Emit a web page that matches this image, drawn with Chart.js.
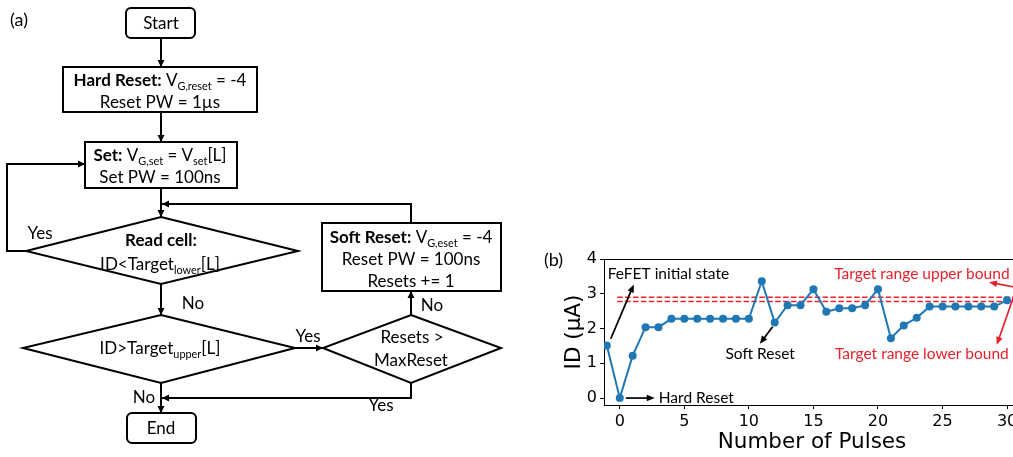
<!DOCTYPE html>
<html>
<head>
<meta charset="utf-8">
<script src="https://cdn.jsdelivr.net/npm/chart.js@4.4.1/dist/chart.umd.min.js"></script>
<style>
  html, body { margin: 0; padding: 0; width: 1013px; height: 457px; overflow: hidden; background: #fff; }
  #flow { position: absolute; left: 0; top: 0; }
  #chart { position: absolute; left: 540px; top: 240px; }
</style>
</head>
<body>
<canvas id="flow" width="1013" height="457"></canvas>
<canvas id="chart" width="540" height="217"></canvas>
<script>
// ---- measured drain current during the program-and-verify sequence ----
const pulses = [-1, 0, 1, 2, 3, 4, 5, 6, 7, 8, 9, 10, 11, 12, 13, 14, 15,
                16, 17, 18, 19, 20, 21, 22, 23, 24, 25, 26, 27, 28, 29, 30];
const currentUA = [1.51, 0.00, 1.22, 2.04, 2.04, 2.28, 2.28, 2.28, 2.28, 2.28, 2.28, 2.28, 3.36, 2.17, 2.67, 2.67, 3.13,
                   2.48, 2.58, 2.58, 2.67, 3.13, 1.72, 2.09, 2.31, 2.63, 2.63, 2.63, 2.63, 2.63, 2.63, 2.81];
const targetUpper = 2.90;
const targetLower = 2.78;
const boundStart = -0.2;
const xTicks = [0, 5, 10, 15, 20, 25, 30];
const yTicks = [0, 1, 2, 3, 4];

const X_MIN = -1.22, X_MAX = 31, Y_MIN = -0.2, Y_MAX = 4;
const SANS = "Lato, 'Open Sans', sans-serif";
const MPL = "'DejaVu Sans', sans-serif";

// ---------- flowchart ----------
const fc = document.getElementById('flow').getContext('2d');

function richWidth(ctx, parts, size) {
  let w = 0;
  for (const p of parts) {
    ctx.font = (p.b ? 'bold ' : '') + (p.sub ? size * 0.64 : size) + 'px ' + SANS;
    w += ctx.measureText(p.t).width;
  }
  return w;
}
function rich(ctx, parts, cx, cy, size, color) {
  const total = richWidth(ctx, parts, size);
  let x = cx - total / 2;
  const base = cy + size * 0.36;
  ctx.fillStyle = color || '#000';
  ctx.textAlign = 'left';
  ctx.textBaseline = 'alphabetic';
  for (const p of parts) {
    const s = p.sub ? size * 0.64 : size;
    ctx.font = (p.b ? 'bold ' : '') + s + 'px ' + SANS;
    ctx.fillText(p.t, x, p.sub ? base + size * 0.22 : base);
    x += ctx.measureText(p.t).width;
  }
}
function arrowHead(ctx, x1, y1, x2, y2, len, half) {
  const a = Math.atan2(y2 - y1, x2 - x1);
  ctx.beginPath();
  ctx.moveTo(x2, y2);
  ctx.lineTo(x2 - len * Math.cos(a) + half * Math.sin(a), y2 - len * Math.sin(a) - half * Math.cos(a));
  ctx.lineTo(x2 - len * Math.cos(a) - half * Math.sin(a), y2 - len * Math.sin(a) + half * Math.cos(a));
  ctx.closePath();
  ctx.fill();
}
function path(ctx, pts, arrow) {
  ctx.beginPath();
  ctx.moveTo(pts[0][0], pts[0][1]);
  for (let i = 1; i < pts.length; i++) ctx.lineTo(pts[i][0], pts[i][1]);
  ctx.stroke();
  if (arrow) {
    const n = pts.length;
    arrowHead(ctx, pts[n - 2][0], pts[n - 2][1], pts[n - 1][0], pts[n - 1][1], 7, 3.5);
  }
}
function box(ctx, x1, y1, x2, y2, r) {
  ctx.beginPath();
  if (r) ctx.roundRect(x1, y1, x2 - x1, y2 - y1, r);
  else ctx.rect(x1, y1, x2 - x1, y2 - y1);
  ctx.fillStyle = '#fff';
  ctx.fill();
  ctx.stroke();
}
function diamond(ctx, cx, top, right, bottom, left, cy) {
  ctx.beginPath();
  ctx.moveTo(cx, top);
  ctx.lineTo(right, cy);
  ctx.lineTo(cx, bottom);
  ctx.lineTo(left, cy);
  ctx.closePath();
  ctx.stroke();
}

fc.strokeStyle = '#000';
fc.fillStyle = '#000';
fc.lineWidth = 2;
fc.lineJoin = 'miter';

// connectors
path(fc, [[161, 38], [161, 67]], true);
path(fc, [[161, 112], [161, 142]], true);
path(fc, [[161, 188], [161, 217]], true);
path(fc, [[411, 223], [411, 204], [162, 204]], true);
path(fc, [[26, 251], [7, 251], [7, 164], [85, 164]], true);
path(fc, [[161, 284], [161, 315]], true);
path(fc, [[295, 348], [323, 348]], true);
path(fc, [[411, 315], [411, 291]], true);
path(fc, [[411, 383], [411, 398], [162, 398]], true);
path(fc, [[161, 383], [161, 413]], true);

// shapes
box(fc, 126, 8, 195, 38, 5);
box(fc, 63, 67, 257, 112);
box(fc, 85, 142, 237, 188);
diamond(fc, 161, 217, 298, 284, 26, 251);
diamond(fc, 161, 315, 295, 383, 23, 348);
diamond(fc, 411, 315, 501, 383, 323, 348);
box(fc, 322, 223, 501, 291);
box(fc, 127, 413, 196, 443, 5);

// texts
const FS = 17;
rich(fc, [{ t: '(a)' }], 19, 20, 18);
rich(fc, [{ t: 'Start' }], 161, 23, FS);
rich(fc, [{ t: 'Hard Reset:', b: true }, { t: ' V' }, { t: 'G,reset', sub: true }, { t: ' = -4' }], 160, 80, FS);
rich(fc, [{ t: 'Reset PW = 1\u00b5s' }], 160, 102, FS);
rich(fc, [{ t: 'Set:', b: true }, { t: ' V' }, { t: 'G,set', sub: true }, { t: ' = V' }, { t: 'set', sub: true }, { t: '[L]' }], 160, 155, FS);
rich(fc, [{ t: 'Set PW = 100ns' }], 160, 177, FS);
rich(fc, [{ t: 'Read cell:', b: true }], 161, 240, FS);
rich(fc, [{ t: 'ID<Target' }, { t: 'lower', sub: true }, { t: '[L]' }], 160, 264, FS);
rich(fc, [{ t: 'ID>Target' }, { t: 'upper', sub: true }, { t: '[L]' }], 160, 348, FS);
rich(fc, [{ t: 'Resets >' }], 412, 337, FS);
rich(fc, [{ t: 'MaxReset' }], 411, 360, FS);
rich(fc, [{ t: 'Soft Reset:', b: true }, { t: ' V' }, { t: 'G,eset', sub: true }, { t: ' = -4' }], 411, 237, FS);
rich(fc, [{ t: 'Reset PW = 100ns' }], 411, 259, FS);
rich(fc, [{ t: 'Resets += 1' }], 411, 281, FS);
rich(fc, [{ t: 'End' }], 161, 428, FS);
rich(fc, [{ t: 'Yes' }], 40, 233, FS);
rich(fc, [{ t: 'No' }], 193, 303, FS);
rich(fc, [{ t: 'Yes' }], 308, 336, FS);
rich(fc, [{ t: 'No' }], 432, 305, FS);
rich(fc, [{ t: 'Yes' }], 381, 405, FS);
rich(fc, [{ t: 'No' }], 144, 397, FS);

// ---------- line chart ----------
const notes = [
  { text: 'FeFET initial state', x: -0.93, y: 3.56, color: '#000', arrow: [-0.70, 1.70, 1.09, 3.27] },
  { text: 'Hard Reset', x: 3.02, y: 0.0, color: '#000', arrow: [0.47, 0.0, 2.71, 0.0] },
  { text: 'Soft Reset', x: 8.19, y: 1.27, color: '#000', arrow: [11.84, 2.05, 10.85, 1.56] },
  { text: 'Target range upper bound', x: 16.61, y: 3.57, color: '#e8202a', arrow: [30.75, 3.18, 28.6, 3.33] },
  { text: 'Target range lower bound', x: 16.67, y: 1.27, color: '#e8202a', arrow: [30.75, 3.18, 29.2, 1.53] }
];

const decor = {
  id: 'decor',
  afterDraw(chart) {
    const { ctx, chartArea: a, scales: { x, y } } = chart;
    ctx.save();
    // top and right spines
    ctx.strokeStyle = '#000';
    ctx.lineWidth = 1;
    ctx.beginPath();
    ctx.moveTo(a.left, a.top + 0.5);
    ctx.lineTo(a.right + 0.5, a.top + 0.5);
    ctx.lineTo(a.right + 0.5, a.bottom);
    ctx.stroke();
    // annotations
    for (const n of notes) {
      ctx.strokeStyle = n.color;
      ctx.fillStyle = n.color;
      ctx.lineWidth = 1.7;
      const [x1, y1, x2, y2] = n.arrow;
      const px1 = x.getPixelForValue(x1), py1 = y.getPixelForValue(y1);
      const px2 = x.getPixelForValue(x2), py2 = y.getPixelForValue(y2);
      const ang = Math.atan2(py2 - py1, px2 - px1);
      ctx.beginPath();
      ctx.moveTo(px1, py1);
      ctx.lineTo(px2 - 6 * Math.cos(ang), py2 - 6 * Math.sin(ang));
      ctx.stroke();
      arrowHead(ctx, px1, py1, px2, py2, 8, 3.3);
      ctx.font = '15.5px ' + SANS;
      ctx.textAlign = 'left';
      ctx.textBaseline = 'middle';
      ctx.fillText(n.text, x.getPixelForValue(n.x), y.getPixelForValue(n.y));
    }
    ctx.fillStyle = '#000';
    ctx.font = '18px ' + SANS;
    ctx.textAlign = 'left';
    ctx.textBaseline = 'middle';
    ctx.fillText('(b)', 4, 20);
    ctx.restore();
  }
};

new Chart(document.getElementById('chart'), {
  type: 'line',
  data: {
    datasets: [
      {
        label: 'ID',
        data: pulses.map((p, i) => ({ x: p, y: currentUA[i] })),
        borderColor: '#1f77b4',
        backgroundColor: '#1f77b4',
        borderWidth: 2,
        pointRadius: 4,
        pointBorderWidth: 0,
        tension: 0
      },
      {
        label: 'upper',
        data: [{ x: boundStart, y: targetUpper }, { x: X_MAX, y: targetUpper }],
        borderColor: '#ee2228',
        borderWidth: 1.5,
        borderDash: [5.5, 2.4],
        pointRadius: 0
      },
      {
        label: 'lower',
        data: [{ x: boundStart, y: targetLower }, { x: X_MAX, y: targetLower }],
        borderColor: '#ee2228',
        borderWidth: 1.5,
        borderDash: [5.5, 2.4],
        pointRadius: 0
      }
    ]
  },
  options: {
    responsive: false,
    animation: false,
    devicePixelRatio: 1,
    layout: { padding: { left: 0, top: 19, right: 60, bottom: 0 } },
    plugins: { legend: { display: false }, tooltip: { enabled: false } },
    scales: {
      x: {
        type: 'linear',
        min: X_MIN,
        max: X_MAX,
        afterBuildTicks: s => { s.ticks = xTicks.map(v => ({ value: v })); },
        afterFit: s => { s.height = 52; },
        border: { display: true, color: '#000', width: 1 },
        grid: { drawOnChartArea: false, drawTicks: true, tickLength: 4, color: '#000' },
        ticks: { color: '#000', font: { family: MPL, size: 16 }, padding: 3, maxRotation: 0 },
        title: { display: true, text: 'Number of Pulses', color: '#000', font: { family: MPL, size: 21.5 }, padding: { top: 0, bottom: 2 } }
      },
      y: {
        type: 'linear',
        min: Y_MIN,
        max: Y_MAX,
        afterBuildTicks: s => { s.ticks = yTicks.map(v => ({ value: v })); },
        afterFit: s => { s.width = 64; },
        border: { display: true, color: '#000', width: 1 },
        grid: { drawOnChartArea: false, drawTicks: true, tickLength: 4, color: '#000' },
        ticks: { color: '#000', font: { family: MPL, size: 16 }, padding: 3 },
        title: { display: true, text: 'ID (\u03bcA)', color: '#000', font: { family: MPL, size: 21.5 }, padding: { top: 22, bottom: 0 } }
      }
    }
  },
  plugins: [decor]
});
</script>
</body>
</html>
